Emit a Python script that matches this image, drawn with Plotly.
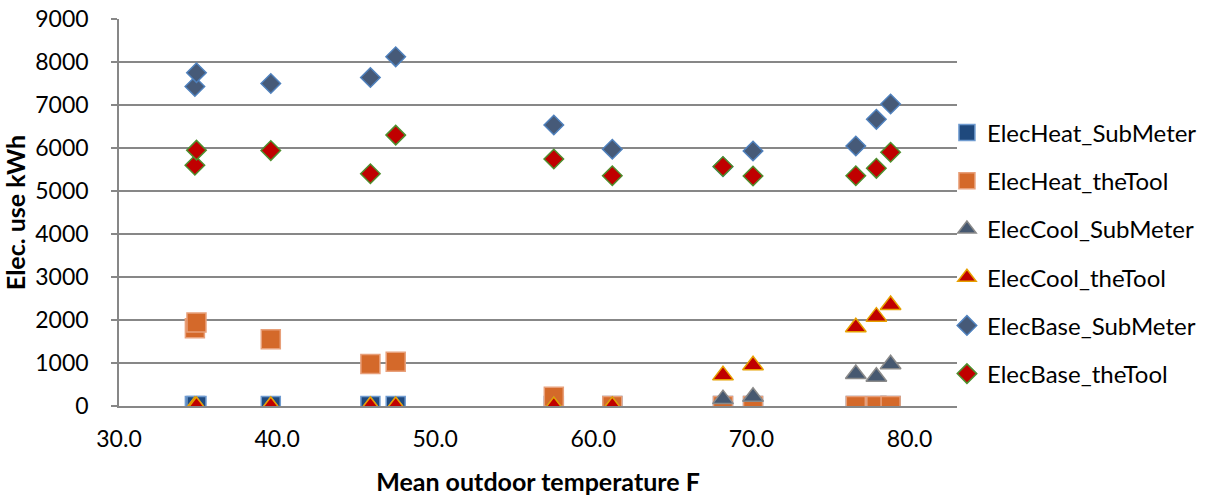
import plotly.graph_objects as go

temps = [34.8, 34.9, 39.6, 45.9, 47.5, 57.5, 61.2, 68.2, 70.1, 76.6, 77.9, 78.8]
elec_heat_submeter = [0, 0, 0, 0, 0, 0, 0, 0, 0, 0, 0, 0]
elec_heat_thetool = [1810, 1940, 1550, 977, 1030, 216, 0, 0, 0, 0, 0, 0]
elec_cool_submeter = [0, 0, 0, 0, 0, 0, 0, 160, 216, 744, 680, 969]
elec_cool_thetool = [0, 0, 0, 0, 0, 0, 0, 713, 946, 1830, 2078, 2349]
elec_base_submeter = [7430, 7750, 7500, 7640, 8120, 6535, 5970, 5565, 5930, 6045, 6667, 7023]
elec_base_thetool = [5600, 5950, 5940, 5400, 6300, 5744, 5355, 5570, 5350, 5355, 5527, 5900]

x_ticks = [30, 40, 50, 60, 70, 80]
y_ticks = [0, 1000, 2000, 3000, 4000, 5000, 6000, 7000, 8000, 9000]

FONT = "Lato"

series = [
    ("ElecHeat_SubMeter", elec_heat_submeter, "square", 19, "#1F497D", "#6F9BD0"),
    ("ElecHeat_theTool", elec_heat_thetool, "square", 19, "#D4692A", "#E8A07A"),
    ("ElecCool_SubMeter", elec_cool_submeter, "triangle-up", 18, "#465870", "#8A8A8A"),
    ("ElecCool_theTool", elec_cool_thetool, "triangle-up", 18, "#C00000", "#E6A000"),
    ("ElecBase_SubMeter", elec_base_submeter, "diamond", 15, "#465A78", "#4F81BD"),
    ("ElecBase_theTool", elec_base_thetool, "diamond", 15, "#C00000", "#4E8F2E"),
]

fig = go.Figure()
for i, (name, vals, sym, size, fill, line) in enumerate(series):
    fig.add_trace(go.Scatter(
        x=temps, y=vals, mode="markers", name=name,
        legendgroup=f"g{i}",
        marker=dict(symbol=sym, size=size, color=fill,
                    line=dict(color=line, width=1.5)),
    ))

fig.update_layout(
    width=1211, height=500,
    margin=dict(l=119, r=254, t=19, b=94, autoexpand=False),
    paper_bgcolor="white", plot_bgcolor="white",
    font=dict(family=FONT, size=23, color="#000000"),
    legend=dict(x=0.988, xanchor="left", y=0.394, yanchor="middle",
                font=dict(family=FONT, size=24, color="#000000"),
                tracegroupgap=14, itemsizing="trace",
                bgcolor="rgba(0,0,0,0)"),
    showlegend=True,
)

fig.update_xaxes(
    range=[30, 83], tickvals=x_ticks, tickformat=".1f",
    showgrid=False, zeroline=False,
    showline=True, linecolor="#878787", linewidth=1.5,
    ticks="", ticklabelstandoff=12,
    tickfont=dict(family=FONT, size=23),
    title=dict(text="<b>Mean outdoor temperature F</b>", font=dict(family=FONT, size=25), standoff=22),
)
fig.update_yaxes(
    range=[0, 9000], tickvals=y_ticks,
    showgrid=True, gridcolor="#878787", gridwidth=1.5, zeroline=False,
    showline=True, linecolor="#878787", linewidth=1.5,
    ticks="outside", ticklen=6, tickcolor="#878787", tickwidth=1.5,
    ticklabelstandoff=18,
    tickfont=dict(family=FONT, size=23),
    title=dict(text="<b>Elec. use kWh</b>", font=dict(family=FONT, size=25), standoff=8),
)

fig.write_html("out.html")
